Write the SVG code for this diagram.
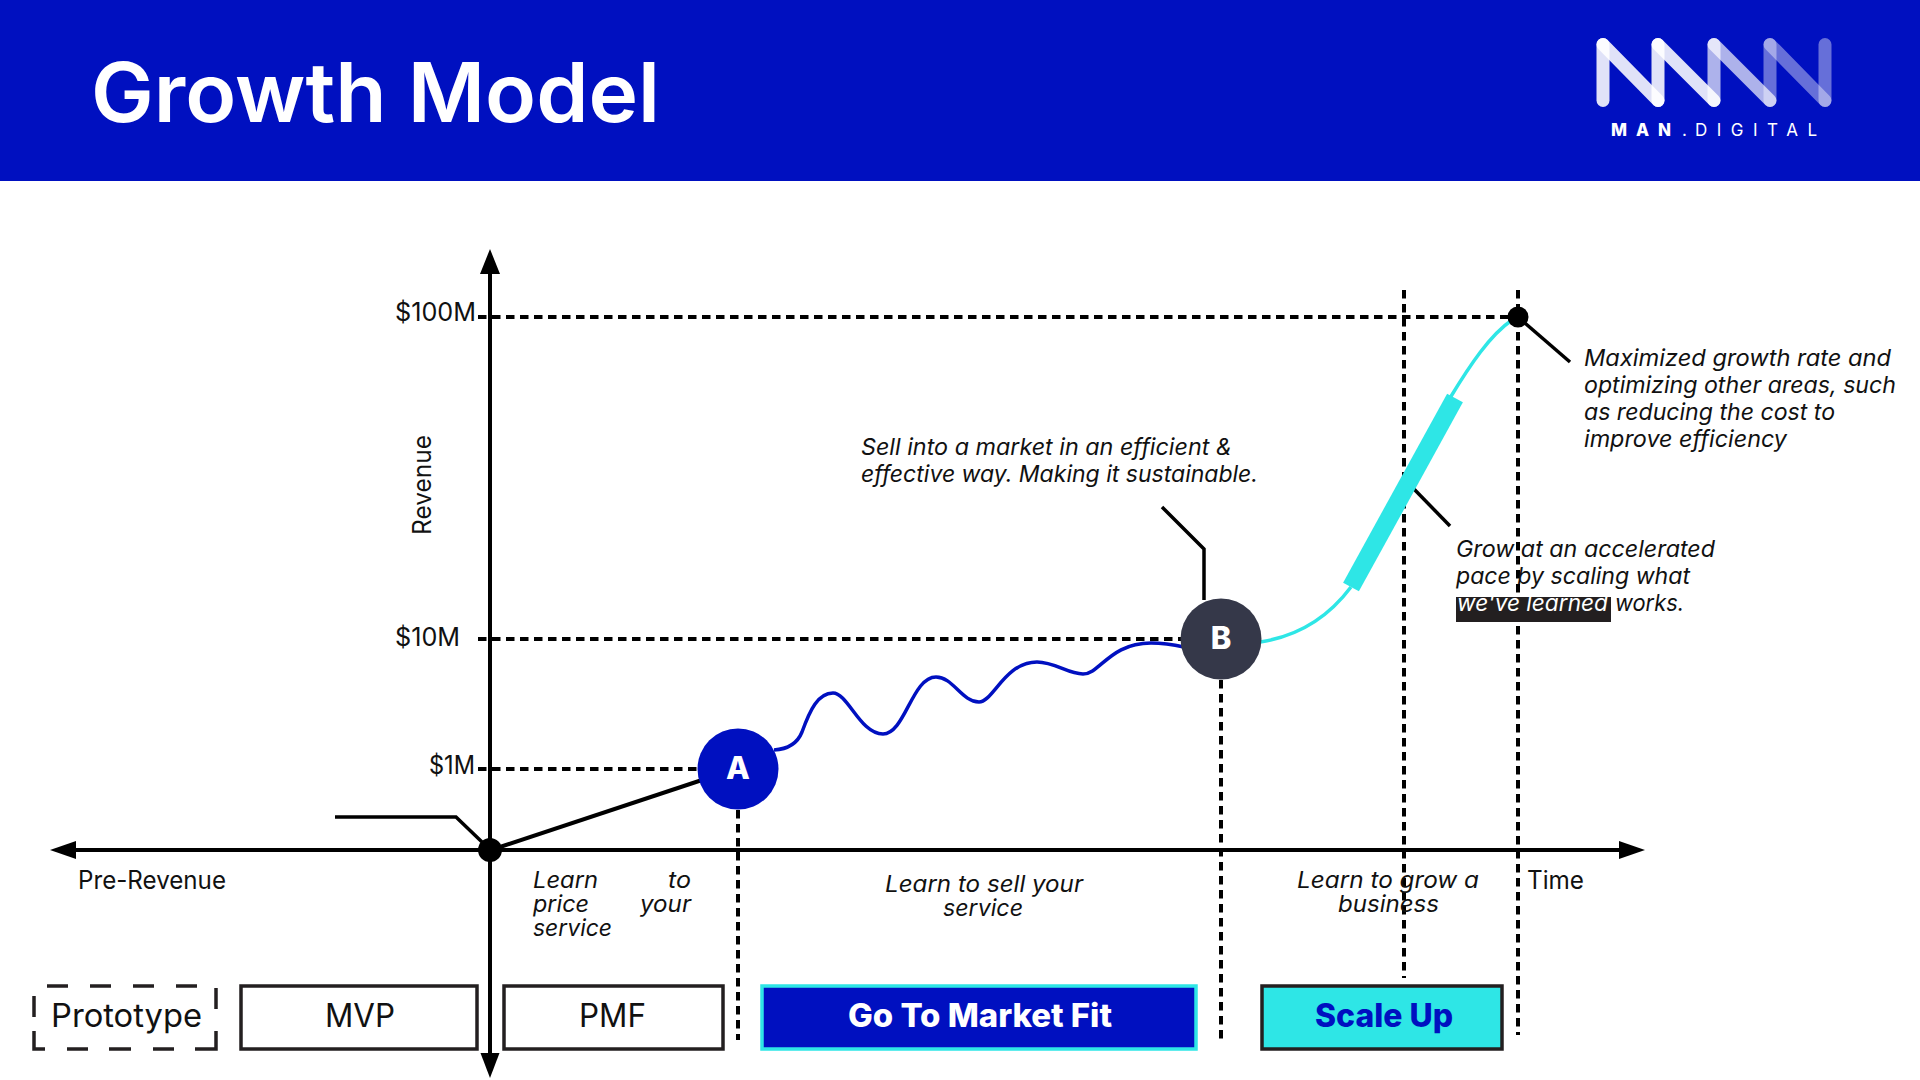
<svg xmlns="http://www.w3.org/2000/svg" width="1920" height="1080" viewBox="0 0 1920 1080">
<style>
text{font-family:"Inter","Noto Sans","Liberation Sans",sans-serif;fill:#111}
.it{font-size:23px;font-style:italic}
.lb{font-size:25px}
.bx{font-size:32px}
.box{fill:#fff;stroke:#231f20;stroke-width:3.5}
.ax{stroke:#000;stroke-width:4;fill:none}
.ds{stroke:#000;stroke-width:4;stroke-dasharray:8.5 5.5;fill:none}
.ld{stroke:#000;stroke-width:3.5;fill:none}
.lg{stroke:#fff;stroke-width:13;stroke-linecap:round;fill:none}
.nd{font-size:31px;font-weight:800;fill:#fff}
</style>
<rect id="header" width="1920" height="181" fill="#0010c0"/>
<text x="91" y="122" font-size="82" font-weight="600" style="fill:#fff" textLength="569" lengthAdjust="spacingAndGlyphs">Growth Model</text>
<g id="logo">
<path class="lg" opacity=".88" d="M1603 44.500V100.500"/><path class="lg" opacity=".88" d="M1603 44.500L1658 100.500"/><path class="lg" opacity=".88" d="M1658 44.500V100.500"/><path class="lg" opacity=".88" d="M1658 44.500L1714 100.500"/>
<path class="lg" opacity=".68" d="M1714 44.500V100.500"/><path class="lg" opacity=".68" d="M1714 44.500L1770 100.500"/>
<path class="lg" opacity=".4" d="M1770 44.500V100.500"/><path class="lg" opacity=".4" d="M1770 44.500L1825 100.500"/><path class="lg" opacity=".4" d="M1825 44.500V100.500"/>
<text x="1611" y="136" font-size="17" font-weight="800" style="fill:#fff" textLength="60">MAN</text>
<text x="1682" y="136" font-size="17" style="fill:#fff">.</text>
<text x="1695" y="136" font-size="17" style="fill:#fff" textLength="122">DIGITAL</text>
</g>
<g id="connectors">
<path class="ds" d="M478 317H1518"/><path class="ds" d="M478 639H1182"/><path class="ds" d="M478 769H700"/>
<path class="ds" d="M738 810V1040"/><path class="ds" d="M1221 680V1040"/><path class="ds" d="M1404 290V978"/><path class="ds" d="M1518 290V1035"/>
<path class="ax" d="M490 270V1056"/><path class="ax" d="M72 850H1623"/>
<path d="M490 249L500 274H480Z"/><path d="M490 1078L499.500 1053H480.500Z"/><path d="M50 850L76 841V859Z"/><path d="M1645 850L1619 841V859Z"/>
<path class="ld" d="M335 817H456L482 842"/>
<path class="ax" d="M500 847L702 780"/>
<path class="ld" d="M1518 317L1570 362"/><path class="ld" d="M1412 487L1450 526"/><path class="ld" d="M1204 600V549L1162 507"/>
<path fill="none" stroke="#0010c0" stroke-width="3.500" d="M774 750C790 749 798 742 802 732C810 710 818 693 833 693C848 693 860 734 883 734C905 734 912 677 936 677C953 677 962 702 979 702C993 702 1005 662 1037 662C1055 662 1068 674 1083 674C1100 674 1110 643 1151 643C1165 643 1175 645 1184 647"/>
<path fill="none" stroke="#2ee6e6" stroke-width="3.500" d="M1260 642C1300 636 1330 615 1351 587"/>
<path fill="none" stroke="#2ee6e6" stroke-width="3.500" d="M1450 398C1470 365 1490 335 1512 320"/>
<path fill="none" stroke="#2ee6e6" stroke-width="18" d="M1351 587L1455 398"/>
</g>
<circle id="origin" cx="490" cy="850" r="12"/>
<circle id="peak" cx="1518" cy="317" r="10.500"/>
<g id="nodeA"><circle cx="738" cy="769" r="40.500" fill="#0010c0"/><text class="nd" x="738" y="779" text-anchor="middle">A</text></g>
<g id="nodeB"><circle cx="1221" cy="639" r="40.500" fill="#353849"/><text class="nd" x="1221" y="649" text-anchor="middle">B</text></g>
<g id="axis-labels">
<text class="lb" x="395" y="321" textLength="81" lengthAdjust="spacingAndGlyphs">$100M</text>
<text class="lb" x="395" y="646" textLength="65" lengthAdjust="spacingAndGlyphs">$10M</text>
<text class="lb" x="429" y="774" textLength="46" lengthAdjust="spacingAndGlyphs">$1M</text>
<text class="lb" transform="translate(431,535) rotate(-90)" textLength="100" lengthAdjust="spacingAndGlyphs">Revenue</text>
<text class="lb" x="78" y="889" textLength="148" lengthAdjust="spacingAndGlyphs">Pre-Revenue</text>
<text class="lb" x="1527" y="889" textLength="57" lengthAdjust="spacingAndGlyphs">Time</text>
</g>
<g id="captions">
<text class="it" x="533" y="888" textLength="65" lengthAdjust="spacingAndGlyphs">Learn</text><text class="it" x="668" y="888" textLength="23" lengthAdjust="spacingAndGlyphs">to</text>
<text class="it" x="533" y="912" textLength="56" lengthAdjust="spacingAndGlyphs">price</text><text class="it" x="640" y="912" textLength="51" lengthAdjust="spacingAndGlyphs">your</text>
<text class="it" x="533" y="936" textLength="79" lengthAdjust="spacingAndGlyphs">service</text>
<text class="it" x="885" y="892" textLength="198" lengthAdjust="spacingAndGlyphs">Learn to sell your</text>
<text class="it" x="943" y="916" textLength="80" lengthAdjust="spacingAndGlyphs">service</text>
<text class="it" x="1297" y="888" textLength="182" lengthAdjust="spacingAndGlyphs">Learn to grow a</text>
<text class="it" x="1338" y="912" textLength="101" lengthAdjust="spacingAndGlyphs">business</text>
<text class="it" x="861" y="455" textLength="371" lengthAdjust="spacingAndGlyphs">Sell into a market in an efficient &amp;</text>
<text class="it" x="861" y="482" textLength="397" lengthAdjust="spacingAndGlyphs">effective way. Making it sustainable.</text>
<text class="it" x="1584" y="366" textLength="307" lengthAdjust="spacingAndGlyphs">Maximized growth rate and</text>
<text class="it" x="1584" y="393" textLength="312" lengthAdjust="spacingAndGlyphs">optimizing other areas, such</text>
<text class="it" x="1584" y="420" textLength="251" lengthAdjust="spacingAndGlyphs">as reducing the cost to</text>
<text class="it" x="1584" y="447" textLength="203" lengthAdjust="spacingAndGlyphs">improve efficiency</text>
<text class="it" x="1456" y="557" textLength="259" lengthAdjust="spacingAndGlyphs">Grow at an accelerated</text>
<text class="it" x="1456" y="584" textLength="234" lengthAdjust="spacingAndGlyphs">pace by scaling what</text>
<rect x="1456" y="597" width="155" height="25" fill="#231f20"/>
<text class="it" x="1457" y="611" style="fill:#fff" textLength="151" lengthAdjust="spacingAndGlyphs">we've learned</text>
<text class="it" x="1615" y="611" textLength="69" lengthAdjust="spacingAndGlyphs">works.</text>
</g>
<g id="prototype"><path fill="none" stroke="#231f20" stroke-width="3.500" d="M47 986H68M90 986H111M133 986H154M176 986H197M216 988V1009M216 1031V1049H195M174 1049H153M131 1049H109M88 1049H67M45 1049H34V1031M34 1017V996"/><text class="bx" x="51" y="1027" textLength="151" lengthAdjust="spacingAndGlyphs">Prototype</text></g>
<g id="mvp"><rect class="box" x="241" y="986" width="236" height="63"/><text class="bx" x="325" y="1027" textLength="70" lengthAdjust="spacingAndGlyphs">MVP</text></g>
<g id="pmf"><rect class="box" x="504" y="986" width="219" height="63"/><text class="bx" x="579" y="1027" textLength="67" lengthAdjust="spacingAndGlyphs">PMF</text></g>
<g id="gtm"><rect x="762" y="986" width="434" height="63" fill="#0010c0" stroke="#2ee6e6" stroke-width="3.500"/><text class="bx" x="848" y="1027" font-weight="800" style="fill:#fff" textLength="264" lengthAdjust="spacingAndGlyphs">Go To Market Fit</text></g>
<g id="scale"><rect x="1262" y="986" width="240" height="63" fill="#2ee6e6" stroke="#231f20" stroke-width="3.500"/><text class="bx" x="1315" y="1027" font-weight="800" style="fill:#0010c0" textLength="138" lengthAdjust="spacingAndGlyphs">Scale Up</text></g>
</svg>
